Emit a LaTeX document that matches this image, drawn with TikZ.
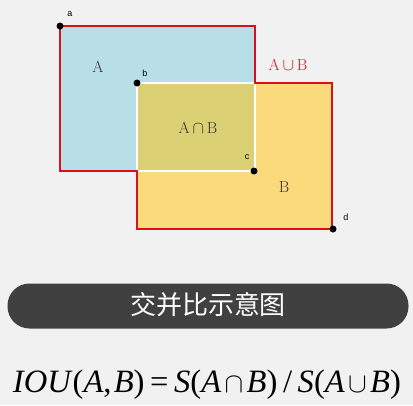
\documentclass[tikz,border=0pt]{standalone}
\usepackage{fontspec}
\newfontfamily\cjk{Noto Sans CJK SC}
\newfontfamily\lab{Liberation Sans}
\newfontfamily\ser{Liberation Serif}
\definecolor{bgc}{HTML}{F1F1F1}
\definecolor{afill}{HTML}{B8DEE8}
\definecolor{bfill}{HTML}{FADA7A}
\definecolor{ifill}{HTML}{DBD074}
\definecolor{uline}{HTML}{DC1018}
\definecolor{banner}{HTML}{404040}
\definecolor{txt}{HTML}{333333}
\tikzset{
  pt/.style={circle,fill=black,inner sep=0pt,minimum size=7pt},
  ptlabel/.style={font=\lab\fontsize{9}{10}\selectfont,text=black,inner sep=0pt},
  setlabel/.style={font=\fontsize{16}{18}\selectfont,text=txt,inner sep=0pt},
}
\newcommand{\iv}[1]{\textit{#1}}
\begin{document}
\begin{tikzpicture}[x=1pt,y=-1pt]
\fill[bgc] (0,0) rectangle (413,405);
\useasboundingbox (0,0) rectangle (413,405);
% rectangles
\fill[afill] (60,26) rectangle (255,171);
\fill[bfill] (137,83) rectangle (332,229);
\fill[ifill] (137,83) rectangle (255,171);
\draw[white,line width=2pt] (137,83) rectangle (255,171);
\draw[uline,line width=1.1pt] (60,26) -- (255,26) -- (255,83) -- (332,83) -- (332,229) -- (137,229) -- (137,171) -- (60,171) -- cycle;
% points
\node[pt] (a) at (60,26) {};
\node[pt] (b) at (137,83) {};
\node[pt] (c) at (254,171) {};
\node[pt] (d) at (333,229) {};
\node[ptlabel] (la) at (70,14) {a};
\node[ptlabel] (lb) at (145,73) {b};
\node[ptlabel] (lc) at (247,157) {c};
\node[ptlabel] (ld) at (346,217) {d};
% set labels
\node[setlabel] (tA) at (98,67) {A};
\node[setlabel] (tI) at (198,128) {A$\,\cap\,$B};
\node[setlabel] (tB) at (284,187) {B};
\node[setlabel,text=uline] (tU) at (288,65) {A$\,\cup\,$B};
% banner
\node[fill=banner,rounded corners=22pt,minimum width=401pt,minimum height=45pt,inner sep=0pt] (ban) at (208,306) {};
\node[font=\cjk\fontsize{26}{28}\selectfont,text=white] (bt) at (208,305) {交并比示意图};
% formula
\node[inner sep=0pt,anchor=base] (f) at (207,392) {\resizebox{388pt}{!}{\ser\fontsize{29}{32}\selectfont\iv{IOU}(\iv{A},\hspace{2pt}\iv{B})\hspace{5pt}=\hspace{5pt}\iv{S}(\iv{A}\hspace{3pt}$\cap$\hspace{3pt}\iv{B})\hspace{5pt}/\hspace{5pt}\iv{S}(\iv{A}\hspace{3pt}$\cup$\hspace{3pt}\iv{B})}};
\end{tikzpicture}
\end{document}
